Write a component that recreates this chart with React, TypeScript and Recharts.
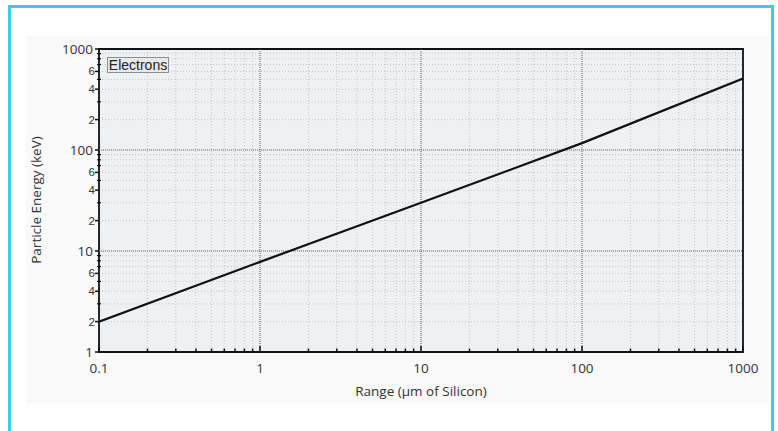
import { LineChart, Line, XAxis, YAxis, CartesianGrid, ReferenceLine, ReferenceArea } from 'recharts'

// electron range in silicon
const RANGE_UM = [0.1, 1, 10, 100, 1000]
const ENERGY_KEV = [2, 7.8, 30, 117, 510]

const X_TICKS = [
  0.1, 0.2, 0.3, 0.4, 0.5, 0.6, 0.7, 0.8, 0.9, 1, 2, 3, 4, 5, 6, 7, 8, 9, 10, 20, 30, 40, 50, 60, 70, 80, 90, 100,
  200, 300, 400, 500, 600, 700, 800, 900, 1000,
]
const Y_TICKS = [
  1, 2, 3, 4, 5, 6, 7, 8, 9, 10, 20, 30, 40, 50, 60, 70, 80, 90, 100, 200, 300, 400, 500, 600, 700, 800, 900, 1000,
]
const X_DECADES = [0.1, 1, 10, 100, 1000]
const X_LABELS = ['0.1', '1', '10', '100', '1000']
const Y_DECADES = [1, 10, 100, 1000]
const Y_LABELS = ['1', '10', '100', '1000']
const Y_MINOR_LABELED = [2, 4, 6, 20, 40, 60, 200, 400, 600]
const Y_MINOR_LABELS = ['2', '4', '6', '2', '4', '6', '2', '4', '6']
const MAJOR_GRID_X = [1, 10, 100]
const MAJOR_GRID_Y = [10, 100]

const SERIES_NAME = 'Electrons'
const X_TITLE = 'Range (µm of Silicon)'
const Y_TITLE = 'Particle Energy (keV)'

const data = RANGE_UM.map((r, i) => ({ range: r, energy: ENERGY_KEV[i] }))

const FONT = '"Open Sans", Arial, sans-serif'

// eslint-disable-next-line @typescript-eslint/no-explicit-any
function XTick({ x, y, payload }: any) {
  const v = payload.value
  const idx = X_DECADES.indexOf(v)
  const len = idx >= 0 ? 6 : 3.5
  return (
    <g>
      <line x1={x} x2={x} y1={y} y2={y - len} stroke="#111" strokeWidth={1.5} />
      {idx >= 0 && (
        <text x={x} y={y + 21} textAnchor="middle" fontSize={13.5} fill="#333" fontFamily={FONT}>
          {X_LABELS[idx]}
        </text>
      )}
    </g>
  )
}

// eslint-disable-next-line @typescript-eslint/no-explicit-any
function YTick({ x, y, payload }: any) {
  const v = payload.value
  const dec = Y_DECADES.indexOf(v)
  const minor = Y_MINOR_LABELED.indexOf(v)
  return (
    <g>
      {dec >= 0 || minor >= 0 ? (
        <line x1={x - 4} x2={x} y1={y} y2={y} stroke="#111" strokeWidth={1.5} />
      ) : (
        <line x1={x - 2} x2={x + 2} y1={y} y2={y} stroke="#111" strokeWidth={1.2} />
      )}
      {dec >= 0 && (
        <text x={x - 6} y={y + 4.5} textAnchor="end" fontSize={13.5} fill="#333" fontFamily={FONT}>
          {Y_LABELS[dec]}
        </text>
      )}
      {minor >= 0 && (
        <text x={x - 4} y={y + 4} textAnchor="end" fontSize={11.5} fill="#333" fontFamily="Arial, sans-serif">
          {Y_MINOR_LABELS[minor]}
        </text>
      )}
    </g>
  )
}

export default function App() {
  return (
    <div style={{ position: 'absolute', left: 0, top: 0, width: 778, height: 431, background: '#fff', overflow: 'hidden' }}>
      <div
        style={{
          position: 'absolute',
          left: 8,
          top: 5,
          width: 766,
          height: 450,
          border: '3px solid #41c7f1',
          boxSizing: 'border-box',
        }}
      />
      <div style={{ position: 'absolute', left: 26, top: 36, width: 743, height: 367, background: '#f9f9f9' }} />
      <div style={{ position: 'absolute', left: 0, top: 0 }}>
        <LineChart width={778} height={431} data={data} margin={{ top: 49, right: 35, left: 39, bottom: 49 }}>
          <CartesianGrid stroke="#c6c6c6" strokeDasharray="1 2" fill="#edf1f3" fillOpacity={1} />
          <XAxis
            dataKey="range"
            type="number"
            scale="log"
            domain={[0.1, 1000]}
            allowDataOverflow
            ticks={X_TICKS}
            interval={0}
            tick={<XTick />}
            tickLine={false}
            axisLine={false}
            tickSize={0}
            tickMargin={0}
            height={30}
          />
          <YAxis
            type="number"
            scale="log"
            domain={[1, 1000]}
            allowDataOverflow
            ticks={Y_TICKS}
            interval={0}
            tick={<YTick />}
            tickLine={false}
            axisLine={false}
            tickSize={0}
            tickMargin={0}
            width={60}
          />
          {MAJOR_GRID_X.map((v) => (
            <ReferenceLine key={'x' + v} x={v} stroke="#6e6e6e" strokeDasharray="1 1" />
          ))}
          {MAJOR_GRID_Y.map((v) => (
            <ReferenceLine key={'y' + v} y={v} stroke="#6e6e6e" strokeDasharray="1 1" />
          ))}
          <ReferenceArea x1={0.1} x2={1000} y1={1} y2={1000} fill="none" fillOpacity={0} stroke="#111" strokeWidth={1.8} />
          <Line
            type="linear"
            dataKey="energy"
            stroke="#111"
            strokeWidth={2.2}
            dot={false}
            isAnimationActive={false}
          />
        </LineChart>
      </div>
      <div
        style={{
          position: 'absolute',
          left: 107,
          top: 57,
          width: 62,
          height: 16,
          boxSizing: 'border-box',
          border: '1px solid #8f8f8f',
          background: '#e7e9eb',
          fontFamily: 'Arial, sans-serif',
          fontSize: 14,
          lineHeight: '14px',
          color: '#222',
          textAlign: 'center',
        }}
      >
        {SERIES_NAME}
      </div>
      <div
        style={{
          position: 'absolute',
          left: 421,
          top: 391,
          transform: 'translate(-50%, -50%)',
          whiteSpace: 'nowrap',
          fontFamily: FONT,
          fontSize: 13.5,
          color: '#333',
        }}
      >
        {X_TITLE}
      </div>
      <div
        style={{
          position: 'absolute',
          left: 36,
          top: 200,
          transform: 'translate(-50%, -50%) rotate(-90deg)',
          whiteSpace: 'nowrap',
          fontFamily: FONT,
          fontSize: 13.5,
          color: '#333',
        }}
      >
        {Y_TITLE}
      </div>
    </div>
  )
}
